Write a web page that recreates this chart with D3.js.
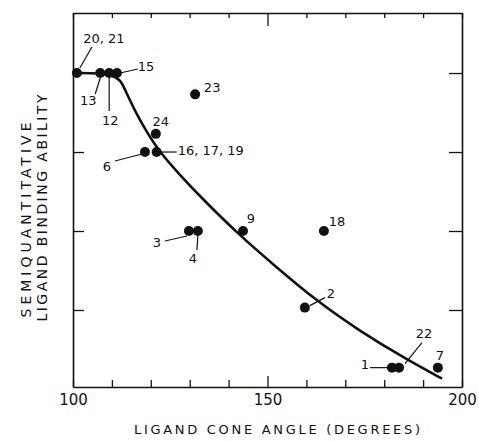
<!DOCTYPE html>
<html>
<head>
<meta charset="utf-8">
<script src="https://cdn.jsdelivr.net/npm/d3@7"></script>
<style>
  body { margin: 0; background: #fff; }
  text { font-family: "DejaVu Sans", sans-serif; fill: #111; }
  .axis path, .axis line { stroke: #111; }
</style>
</head>
<body>
<div class="graph"></div>
<script>
  // ligand number, cone angle (degrees), semiquantitative binding ability
  const ligands = ["20, 21", "13", "12", "15", "23", "24", "6", "16, 17, 19", "3", "4", "9", "18", "2", "1", "22", "7"];
  const coneAngle = [101, 107, 109.3, 111.3, 131.4, 121.3, 118.5, 121.5, 129.8, 132.1, 143.7, 164.5, 159.6, 182, 183.8, 193.8];
  const binding = [4, 4, 4, 4, 3.73, 3.23, 3, 3, 2, 2, 2, 2, 1.03, 0.27, 0.27, 0.27];

  // the drawn trend curve
  const curveAngle = [100, 111.3, 113.1, 115.9, 119.0, 122.4, 127.5, 132.6, 142.9, 151.9, 162.2, 173.8, 185.9, 194.9];
  const curveBinding = [4, 4, 3.82, 3.52, 3.25, 2.99, 2.71, 2.44, 1.94, 1.56, 1.13, 0.73, 0.37, 0.13];

  const xTicks = d3.range(100, 201, 10);
  const xLabels = [100, 150, 200];
  const yTicks = [1, 2, 3, 4];

  // label offsets from each dot, leader line as [x1, y1, x2, y2]
  const labelPos = {
    "20, 21": { dx: 27, dy: -35, line: [3, -5, 15, -26] },
    "13": { dx: -12, dy: 27, line: [0, 5, -5, 21] },
    "12": { dx: 1, dy: 47, line: [0, 5, 0, 38] },
    "15": { dx: 29, dy: -7, line: [3, 0, 21, -4] },
    "23": { dx: 17, dy: -7 },
    "24": { dx: 5, dy: -12 },
    "6": { dx: -38, dy: 14, line: [-3, 2, -30, 9] },
    "16, 17, 19": { dx: 21, dy: -2, anchor: "start", line: [3, 0, 20, 0] },
    "3": { dx: -32, dy: 11, line: [-2, 5, -24, 10] },
    "4": { dx: -5, dy: 27, line: [0, 5, -1, 19] },
    "9": { dx: 8, dy: -13 },
    "18": { dx: 13, dy: -10 },
    "2": { dx: 26, dy: -14, line: [5, -2, 20, -10] },
    "1": { dx: -27, dy: -3, line: [-4, 0, -22, 0] },
    "22": { dx: 25, dy: -34, line: [6, -4, 23, -25] },
    "7": { dx: 2, dy: -12 }
  };

  const margin = { top: 13, left: 73, bottom: 54, right: 17 };
  const width = 479 - margin.left - margin.right;
  const height = 441 - margin.top - margin.bottom;

  const xScale = d3.scaleLinear()
    .domain([100, 200])
    .range([0, width]);

  const yScale = d3.scaleLinear()
    .domain([0.025, 4.76])
    .range([height, 0]);

  const svg = d3.select('.graph')
    .append('svg')
    .attr('width', 479)
    .attr('height', 441)
    .append('g')
    .attr('transform', `translate(${margin.left},${margin.top})`);

  // axes, ticks pointing inward
  const bottomAxis = svg.append('g')
    .attr('class', 'axis')
    .attr('transform', `translate(0, ${height})`)
    .call(d3.axisBottom(xScale)
      .tickValues(xTicks)
      .tickSize(-7)
      .tickSizeOuter(0)
      .tickPadding(7)
      .tickFormat(d => xLabels.includes(d) ? d : ''));

  bottomAxis.selectAll('.tick line')
    .filter(d => d === 150)
    .attr('y2', -11);

  bottomAxis.selectAll('text')
    .style('font-size', '15px')
    .style('font-family', '"DejaVu Sans", sans-serif')
    .attr('fill', '#111');

  const topAxis = svg.append('g')
    .attr('class', 'axis')
    .call(d3.axisTop(xScale)
      .tickValues(xTicks)
      .tickSize(-5)
      .tickSizeOuter(0)
      .tickFormat(''));

  topAxis.selectAll('.tick line')
    .filter(d => d === 150)
    .attr('y2', 13);

  svg.append('g')
    .attr('class', 'axis')
    .call(d3.axisLeft(yScale)
      .tickValues(yTicks)
      .tickSize(-11)
      .tickSizeOuter(0)
      .tickFormat(''));

  svg.append('g')
    .attr('class', 'axis')
    .attr('transform', `translate(${width}, 0)`)
    .call(d3.axisRight(yScale)
      .tickValues(yTicks)
      .tickSize(-13)
      .tickSizeOuter(0)
      .tickFormat(''));

  svg.selectAll('.axis path').attr('stroke-width', 1.6);
  svg.selectAll('.axis line').attr('stroke-width', 1.3);

  // trend curve
  const curveData = curveAngle.map((a, i) => [a, curveBinding[i]]);
  const line = d3.line()
    .x(d => xScale(d[0]))
    .y(d => yScale(d[1]))
    .curve(d3.curveBasis);

  svg.append('path')
    .datum(curveData)
    .attr('fill', 'none')
    .attr('stroke', '#111')
    .attr('stroke-width', 2.6)
    .attr('d', line);

  const points = ligands.map((l, i) => ({ id: l, x: coneAngle[i], y: binding[i] }));

  svg.selectAll('.dot')
    .data(points)
    .enter()
    .append('circle')
    .attr('class', 'dot')
    .attr('cx', d => xScale(d.x))
    .attr('cy', d => yScale(d.y))
    .attr('r', 5)
    .attr('fill', '#111');

  svg.selectAll('.leader')
    .data(points.filter(d => labelPos[d.id].line))
    .enter()
    .append('line')
    .attr('class', 'leader')
    .attr('x1', d => xScale(d.x) + labelPos[d.id].line[0])
    .attr('y1', d => yScale(d.y) + labelPos[d.id].line[1])
    .attr('x2', d => xScale(d.x) + labelPos[d.id].line[2])
    .attr('y2', d => yScale(d.y) + labelPos[d.id].line[3])
    .attr('stroke', '#111')
    .attr('stroke-width', 1.2);

  svg.selectAll('.label')
    .data(points)
    .enter()
    .append('text')
    .attr('class', 'label')
    .attr('x', d => xScale(d.x) + labelPos[d.id].dx)
    .attr('y', d => yScale(d.y) + labelPos[d.id].dy)
    .attr('text-anchor', d => labelPos[d.id].anchor || 'middle')
    .attr('dominant-baseline', 'central')
    .style('font-size', '13px')
    .text(d => d.id);

  // axis titles
  svg.append('text')
    .attr('x', 277 - margin.left)
    .attr('y', 434 - margin.top)
    .attr('text-anchor', 'middle')
    .attr('textLength', 286)
    .attr('lengthAdjust', 'spacing')
    .style('font-size', '13px')
    .text('LIGAND CONE ANGLE (DEGREES)');

  svg.append('text')
    .attr('transform', `translate(${26 - margin.left}, ${220 - margin.top}) rotate(-90)`)
    .attr('text-anchor', 'middle')
    .attr('dominant-baseline', 'central')
    .attr('textLength', 195)
    .attr('lengthAdjust', 'spacing')
    .style('font-size', '14px')
    .text('SEMIQUANTITATIVE');

  svg.append('text')
    .attr('transform', `translate(${42 - margin.left}, ${208 - margin.top}) rotate(-90)`)
    .attr('text-anchor', 'middle')
    .attr('dominant-baseline', 'central')
    .attr('textLength', 227)
    .attr('lengthAdjust', 'spacing')
    .style('font-size', '14px')
    .text('LIGAND BINDING ABILITY');
</script>
</body>
</html>
